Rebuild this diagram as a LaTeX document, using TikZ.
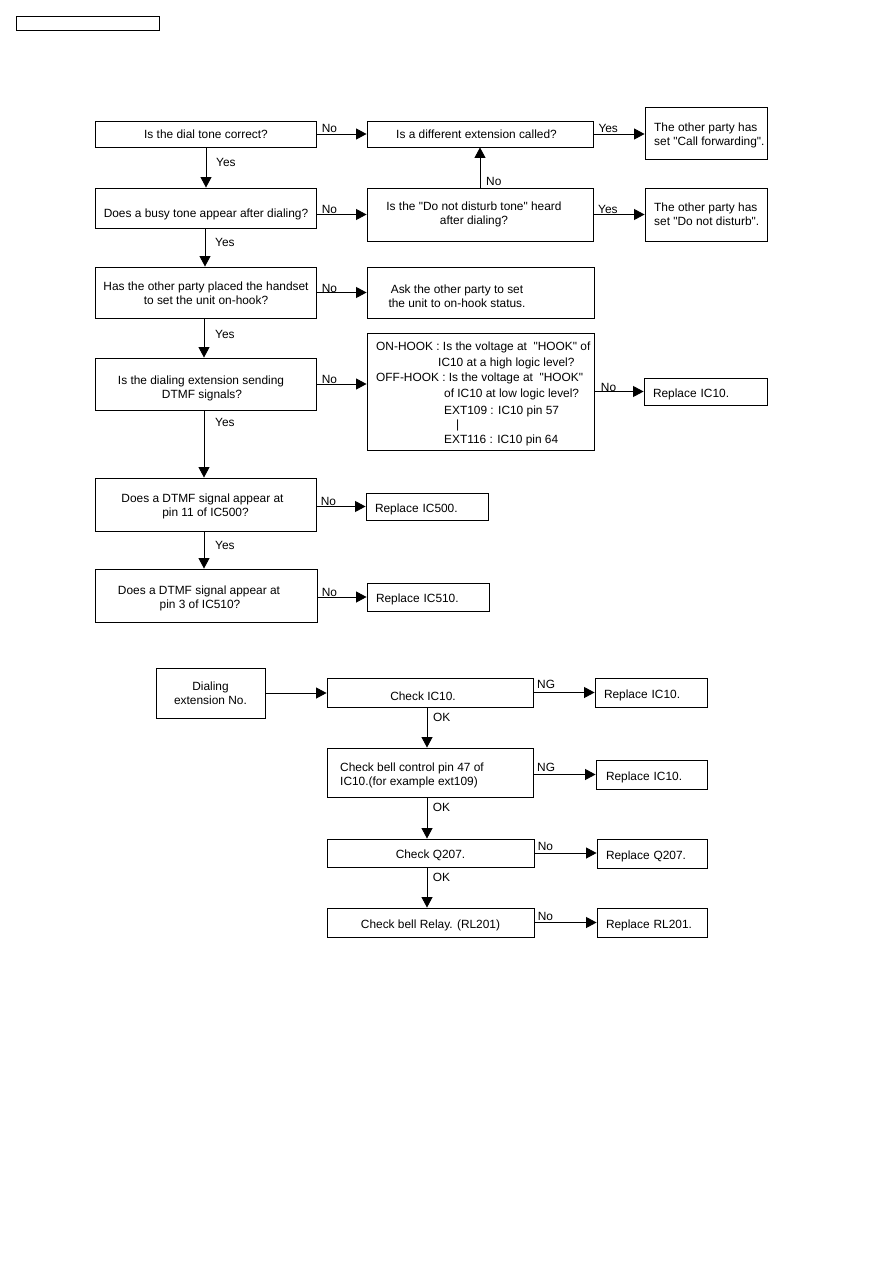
\documentclass[tikz,border=0pt]{standalone}
\usepackage{fontspec}
\setmainfont{Liberation Sans}[Ligatures=TeXOff]
\usetikzlibrary{arrows.meta}
\newcommand{\lowtxt}[1]{\raisebox{-2.5pt}[\height][\depth]{#1}}
\begin{document}
\begin{tikzpicture}[x=1pt,y=-1pt,
  every node/.style={font=\fontsize{11.9}{14}\selectfont, inner sep=0pt},
  box/.style={draw=black, line width=0.9pt, align=center},
  rbox/.style={box, align=left, inner xsep=9pt},
  arr/.style={draw=black, line width=0.9pt, -{Triangle[length=10.5pt,width=11pt]}},
  lab/.style={anchor=base west},
  txt/.style={align=left, anchor=west},
  hl/.style={anchor=base west},
]
\useasboundingbox[fill=white] (0,0) rectangle (893,1263);

% header box
\node[box, minimum width=143pt, minimum height=14pt] (hdr) at (87.5,23) {};

% upper flow
\node[box, minimum width=221pt, minimum height=26pt] (b1) at (206,134) {Is the dial tone correct?};
\node[box, minimum width=226pt, minimum height=26pt] (b2) at (480,134) {\hspace*{-7pt}Is a different extension called?};
\node[box, minimum width=122pt, minimum height=52pt] (cf) at (706,133) {};
\node[txt] (cft) at (654,135.3) {The other party has\\set "Call forwarding".};
\node[box, minimum width=221pt, minimum height=40pt] (b3) at (206,208) {\raisebox{-6pt}[\height][\depth]{Does a busy tone appear after dialing?}};
\node[box, minimum width=226pt, minimum height=53pt] (dnd) at (480,214.5) {\hspace*{-12pt}Is the "Do not disturb tone" heard\\\hspace*{-12pt}after dialing?};
\node[box, minimum width=122pt, minimum height=53pt] (dd) at (706,214.5) {};
\node[txt] (ddt) at (654,214.5) {The other party has\\set "Do not disturb".};
\node[box, minimum width=221pt, minimum height=51pt] (b4) at (206,292.5) {\raisebox{-2pt}[\height][\depth]{\begin{tabular}{@{}c@{}}Has the other party placed the handset\\to set the unit on-hook?\end{tabular}}};
\node[box, minimum width=227pt, minimum height=51pt] (ask) at (480.5,292.5) {};
\node[align=center] (askt) at (457,296) {Ask the other party to set\\the unit to on-hook status.};
\node[box, minimum width=221pt, minimum height=52pt] (b5) at (206,384) {\raisebox{-5pt}[\height][\depth]{\begin{tabular}{@{}c@{}}\hspace*{-10pt}Is the dialing extension sending\\\hspace*{-8pt}DTMF signals?\end{tabular}}};
\node[box, minimum width=227pt, minimum height=117pt] (hook) at (480.5,391.5) {};
\node[hl] (h1) at (376,350.3) {ON-HOOK : Is the voltage at\ \ "HOOK" of};
\node[hl] (h2) at (438,366.5) {IC10 at a high logic level?};
\node[hl] (h3) at (376,381) {OFF-HOOK : Is the voltage at\ \ "HOOK"};
\node[hl] (h4) at (444,397.3) {of IC10 at low logic level?};
\node[hl] (h5) at (444,414.3) {EXT109 : IC10 pin 57};
\node[hl] (h6) at (456,428.3) {|};
\node[hl] (h7) at (444,443.6) {EXT116 : IC10 pin 64};
\node[rbox, minimum width=123pt, minimum height=27pt, text width=105pt] (r10) at (705.5,391.5) {\lowtxt{Replace IC10.}};
\node[box, minimum width=221pt, minimum height=53pt] (b6) at (205.5,504.5) {\raisebox{-2pt}[\height][\depth]{\begin{tabular}{@{}c@{}}\hspace*{-6pt}Does a DTMF signal appear at\\pin 11 of IC500?\end{tabular}}};
\node[rbox, minimum width=122pt, minimum height=27pt, text width=104pt] (r500) at (427,506.5) {\lowtxt{Replace IC500.}};
\node[box, minimum width=222pt, minimum height=53pt] (b7) at (206,595.5) {\raisebox{-3pt}[\height][\depth]{\begin{tabular}{@{}c@{}}\hspace*{-14pt}Does a DTMF signal appear at\\\hspace*{-12pt}pin 3 of IC510?\end{tabular}}};
\node[rbox, minimum width=122pt, minimum height=28pt, text width=104pt] (r510) at (428,597) {\lowtxt{Replace IC510.}};

% lower flow
\node[box, minimum width=109pt, minimum height=50pt] (dial) at (210.5,693) {Dialing\\extension No.};
\node[box, minimum width=206pt, minimum height=29pt] (c10) at (430,692.5) {\hspace*{-14pt}\raisebox{-3.5pt}[\height][\depth]{Check IC10.}};
\node[rbox, minimum width=112pt, minimum height=29pt, text width=94pt] (rA) at (651,692.5) {\lowtxt{Replace IC10.}};
\node[box, minimum width=206pt, minimum height=49pt] (bell) at (430,772.5) {};
\node[txt] (bellt) at (340,775.5) {Check bell control pin 47 of\\IC10.(for example ext109)};
\node[rbox, minimum width=111pt, minimum height=29pt, text width=91pt, inner xsep=10pt] (rB) at (651.5,774.5) {\lowtxt{Replace IC10.}};
\node[box, minimum width=207pt, minimum height=28pt] (q) at (430.5,853) {\lowtxt{Check Q207.}};
\node[rbox, minimum width=110pt, minimum height=29pt, text width=92pt] (rQ) at (652,853.5) {\lowtxt{Replace Q207.}};
\node[box, minimum width=207pt, minimum height=29pt] (rl) at (430.5,922.5) {\lowtxt{Check bell Relay. (RL201)}};
\node[rbox, minimum width=110pt, minimum height=29pt, text width=92pt] (rR) at (652,922.5) {\lowtxt{Replace RL201.}};

% coordinates for vertical arrows
\coordinate (v1) at ([xshift=-1pt]b3.south);
\coordinate (v2) at ([xshift=-2pt]b4.south);
\coordinate (v3) at ([xshift=-2pt]b5.south);
\coordinate (v4) at ([xshift=-1.5pt]b6.south);
\coordinate (v5) at ([xshift=-3pt]c10.south);
\coordinate (v6) at ([xshift=-3pt]bell.south);
\coordinate (v7) at ([xshift=-3.5pt]q.south);

% connectors
\draw[arr] (b1.east) -- (b2.west);
\draw[arr] (b2.east) -- (b2.east -| cf.west);
\draw[arr] (b1.south) -- (b3.north);
\draw[arr] (b3.east |- dnd.west) -- (dnd.west);
\draw[arr] (dnd.east) -- (dd.west);
\draw[arr] (dnd.north) -- (b2.south);
\draw[arr] (v1) -- (v1 |- b4.north);
\draw[arr] (b4.east) -- (b4.east -| ask.west);
\draw[arr] (v2) -- (v2 |- b5.north);
\draw[arr] (b5.east) -- (b5.east -| hook.west);
\draw[arr] (hook.east) -- (r10.west);
\draw[arr] (v3) -- (v3 |- b6.north);
\draw[arr] (b6.east |- r500.west) -- (r500.west);
\draw[arr] (v4) -- (v4 |- b7.north);
\draw[arr] (b7.east |- r510.west) -- (r510.west);
\draw[arr] (dial.east) -- (dial.east -| c10.west);
\draw[arr] (c10.east) -- (rA.west);
\draw[arr] (v5) -- (v5 |- bell.north);
\draw[arr] (bell.east |- rB.west) -- (rB.west);
\draw[arr] (v6) -- (v6 |- q.north);
\draw[arr] (q.east) -- (q.east -| rQ.west);
\draw[arr] (v7) -- (v7 |- rl.north);
\draw[arr] (rl.east) -- (rl.east -| rR.west);

% labels
\node[lab] (l1) at (321.7,132.6) {No};
\node[lab] (l2) at (598.3,132) {Yes};
\node[lab] (l3) at (216,166) {Yes};
\node[lab] (l4) at (321.7,213.6) {No};
\node[lab] (l5) at (598,213.6) {Yes};
\node[lab] (l6) at (486,185.3) {No};
\node[lab] (l7) at (215,246) {Yes};
\node[lab] (l8) at (321.7,292) {No};
\node[lab] (l9) at (215,338.3) {Yes};
\node[lab] (l10) at (321.7,383.3) {No};
\node[lab] (l11) at (600.7,391.6) {No};
\node[lab] (l12) at (215,426) {Yes};
\node[lab] (l13) at (320.7,505.3) {No};
\node[lab] (l14) at (215,549.3) {Yes};
\node[lab] (l15) at (321.7,596) {No};
\node[lab] (l16) at (537,688.6) {NG};
\node[lab] (l17) at (537,771) {NG};
\node[lab] (l18) at (433,721) {OK};
\node[lab] (l19) at (432.7,811.3) {OK};
\node[lab] (l20) at (432.7,881.6) {OK};
\node[lab] (l21) at (537.7,850) {No};
\node[lab] (l22) at (537.7,920) {No};
\end{tikzpicture}
\end{document}
